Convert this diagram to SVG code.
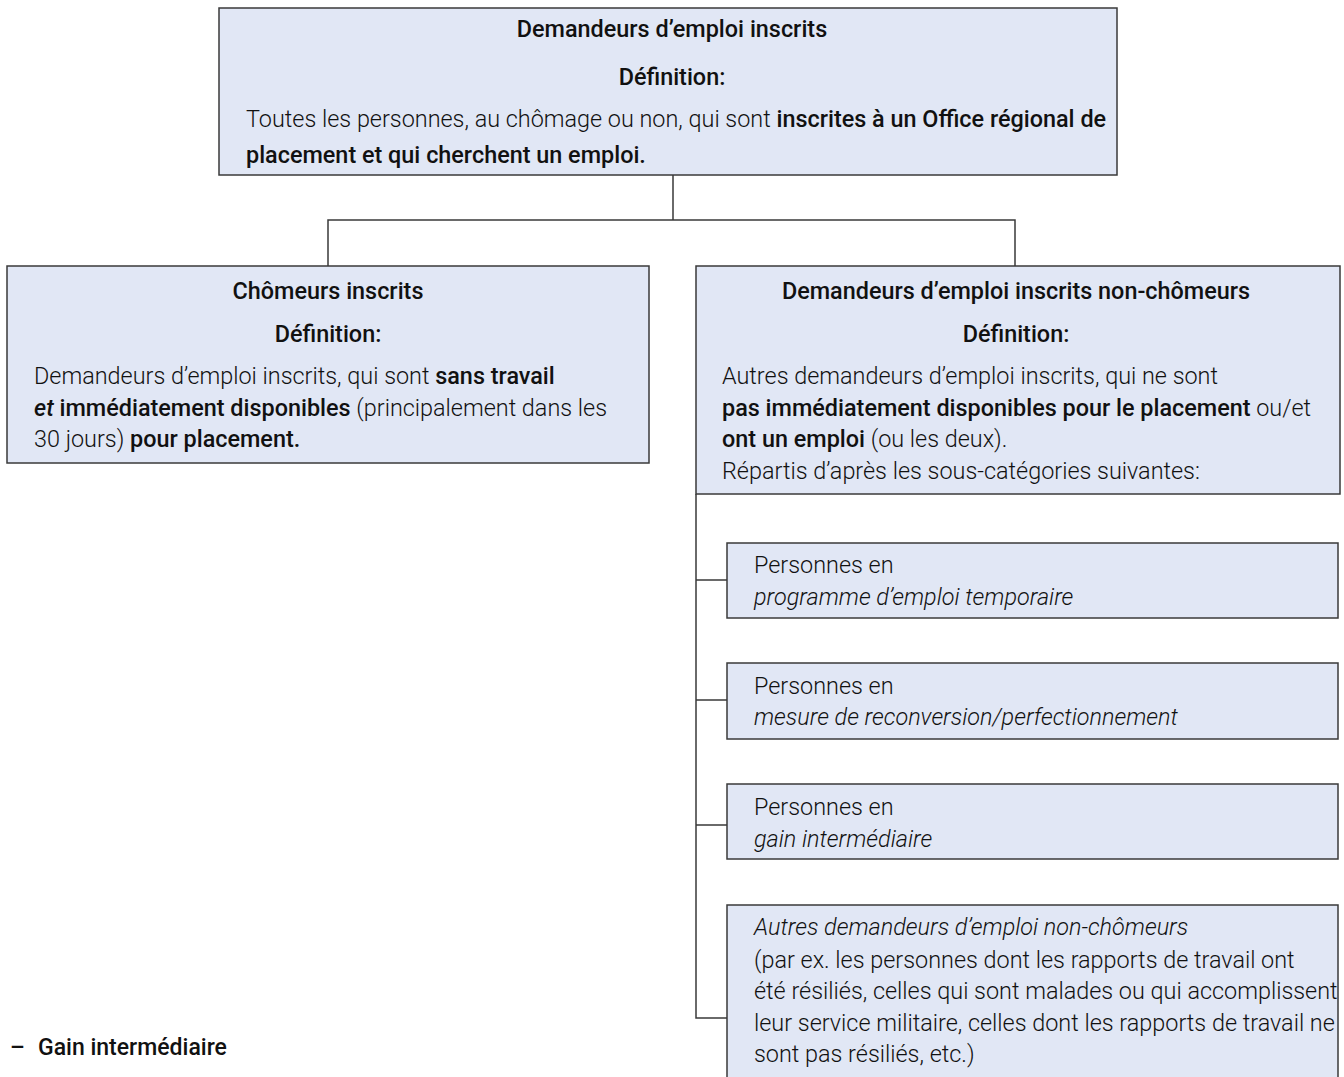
<svg xmlns="http://www.w3.org/2000/svg" width="1344" height="1077" viewBox="0 0 1344 1077">
<style>
.box{fill:#e1e7f5;stroke:#3a3a3a;stroke-width:1.5}
.ln{fill:none;stroke:#3a3a3a;stroke-width:1.5}
text{font-family:Roboto,"Liberation Sans",sans-serif;font-size:23.4px;fill:#111;font-weight:300}
.b{font-weight:500}
.i{font-style:italic}
.c{text-anchor:middle}
</style>
<rect width="1344" height="1077" fill="#fff"/>
<g id="connectors">
<path class="ln" d="M673 175V220M328 266V220H1015V266"/>
<path class="ln" d="M696 494V1018H727M696 580H727M696 700H727M696 825H727"/>
</g>
<g id="n-top">
<rect class="box" x="219" y="8" width="898" height="167"/>
<text class="c b" x="672" y="37">Demandeurs d’emploi inscrits</text>
<text class="c b" x="672" y="85">Définition:</text>
<text x="246" y="127">Toutes les personnes, au chômage ou non, qui sont <tspan class="b">inscrites à un Office régional de</tspan></text>
<text x="246" y="163" class="b">placement et qui cherchent un emploi.</text>
</g>
<g id="n-chomeurs">
<rect class="box" x="7" y="266" width="642" height="197"/>
<text class="c b" x="328" y="299">Chômeurs inscrits</text>
<text class="c b" x="328" y="342">Définition:</text>
<text x="34" y="384">Demandeurs d’emploi inscrits, qui sont <tspan class="b">sans travail</tspan></text>
<text x="34" y="416"><tspan class="b i">et</tspan><tspan class="b"> immédiatement disponibles</tspan> (principalement dans les</text>
<text x="34" y="447">30 jours) <tspan class="b">pour placement.</tspan></text>
</g>
<g id="n-nonchomeurs">
<rect class="box" x="696" y="266" width="644" height="228"/>
<text class="c b" x="1016" y="299">Demandeurs d’emploi inscrits non-chômeurs</text>
<text class="c b" x="1016" y="342">Définition:</text>
<text x="722" y="384">Autres demandeurs d’emploi inscrits, qui ne sont</text>
<text x="722" y="416"><tspan class="b">pas immédiatement disponibles pour le placement</tspan> ou/et</text>
<text x="722" y="447"><tspan class="b">ont un emploi</tspan> (ou les deux).</text>
<text x="722" y="479">Répartis d’après les sous-catégories suivantes:</text>
</g>
<g id="n-sub1">
<rect class="box" x="727" y="543" width="611" height="75"/>
<text x="754" y="573">Personnes en</text>
<text x="754" y="605" class="i">programme d’emploi temporaire</text>
</g>
<g id="n-sub2">
<rect class="box" x="727" y="663" width="611" height="76"/>
<text x="754" y="694">Personnes en</text>
<text x="754" y="725" class="i">mesure de reconversion/perfectionnement</text>
</g>
<g id="n-sub3">
<rect class="box" x="727" y="784" width="611" height="75"/>
<text x="754" y="815">Personnes en</text>
<text x="754" y="847" class="i">gain intermédiaire</text>
</g>
<g id="n-sub4">
<rect class="box" x="727" y="905" width="611" height="190"/>
<text x="754" y="935" class="i">Autres demandeurs d’emploi non-chômeurs</text>
<text x="754" y="968">(par ex. les personnes dont les rapports de travail ont</text>
<text x="754" y="999">été résiliés, celles qui sont malades ou qui accomplissent</text>
<text x="754" y="1031">leur service militaire, celles dont les rapports de travail ne</text>
<text x="754" y="1062">sont pas résiliés, etc.)</text>
</g>
<g id="n-note">
<text x="10" y="1055" class="b" style="font-size:23px">–<tspan x="38">Gain intermédiaire</tspan></text>
</g>
</svg>
